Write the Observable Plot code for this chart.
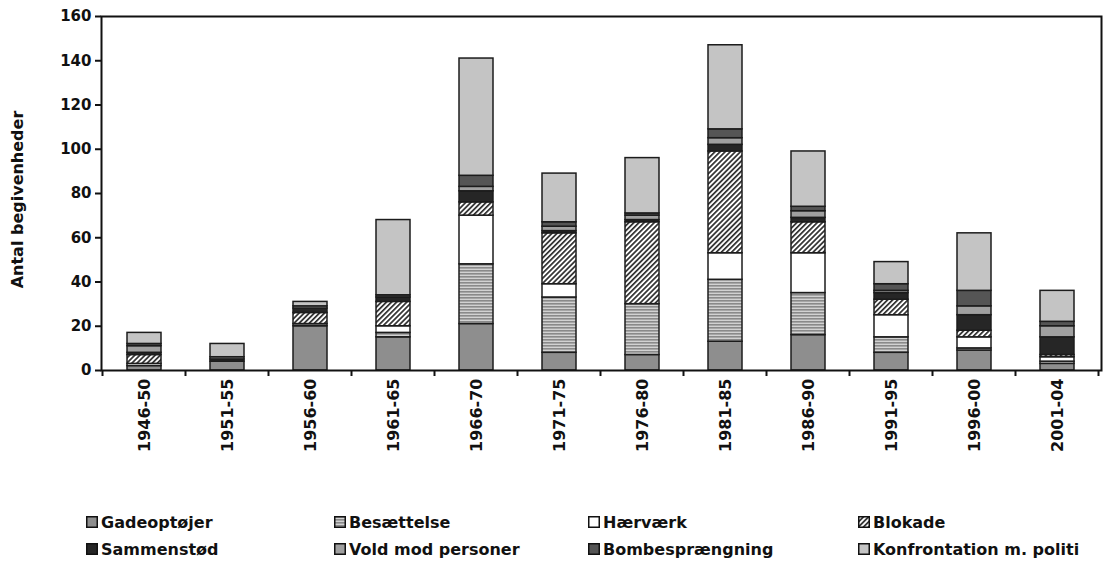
<!DOCTYPE html>
<html><head><meta charset="utf-8">
<script src="https://cdn.jsdelivr.net/npm/d3@7"></script>
<script src="https://cdn.jsdelivr.net/npm/@observablehq/plot@0.6"></script>
<style>
body{margin:0;background:#fff;font-family:"DejaVu Sans",sans-serif;}
#legend{position:relative;width:1105px;height:96px;}
.item{position:absolute;display:flex;align-items:center;height:18px;font-size:16px;font-weight:bold;color:#111;white-space:nowrap;}
.item svg{margin-right:3px;}
</style></head><body>
<div id="chart"></div><div id="legend"></div>
<script>
const periods = ["1946-50","1951-55","1956-60","1961-65","1966-70","1971-75","1976-80","1981-85","1986-90","1991-95","1996-00","2001-04"];
const types = ["Gadeoptøjer","Besættelse","Hærværk","Blokade","Sammenstød","Vold mod personer","Bombesprængning","Konfrontation m. politi"];
const gadeoptojer = [2,4,20,15,21,8,7,13,16,8,9,3];
const besaettelse = [0,0,1,2,27,25,23,28,19,7,1,1];
const haervaerk   = [1,0,0,3,22,6,0,12,18,10,5,2];
const blokade     = [4,0,5,11,6,23,37,46,14,7,3,1];
const sammenstod  = [1,1,2,2,5,1,1,3,2,3,7,8];
const vold        = [3,1,1,0,2,2,2,3,3,1,4,5];
const bombe       = [1,0,0,1,5,2,1,4,2,3,7,2];
const konfront    = [5,6,2,34,53,22,25,38,25,10,26,14];
const yTicks = [0,20,40,60,80,100,120,140,160];

const series = [gadeoptojer,besaettelse,haervaerk,blokade,sammenstod,vold,bombe,konfront];
const fills = ["#8e8e8e","url(#pBes)","#ffffff","url(#pBlok)","#262626","#a0a0a0","#555555","#c4c4c4"];
const legendCols = [0,1,2,3,0,1,2,3];

const data = [];
periods.forEach((p,i)=>{
  types.forEach((t,k)=>{
    if (series[k][i] > 0) data.push({period:p, type:t, value:series[k][i]});
  });
});

function boundaryTicks(index, scales, values, dims) {
  const x = scales.x;
  const bw = typeof x.bandwidth === "function" ? x.bandwidth() : x.bandwidth;
  const step = typeof x.step === "function" ? x.step() : (dims.width - dims.marginLeft - dims.marginRight) / periods.length;
  const y0 = dims.height - dims.marginBottom;
  const g = d3.create("svg:g").attr("stroke", "#111").attr("stroke-width", 2);
  const xs = periods.map(p => x(p) - (step - bw) / 2);
  xs.push(xs[xs.length - 1] + step);
  xs.forEach(v => g.append("line").attr("x1", v).attr("x2", v).attr("y1", y0).attr("y2", y0 + 6));
  return g.node();
}

const chart = Plot.plot({
  width: 1105, height: 470,
  marginLeft: 101, marginRight: 4, marginTop: 16, marginBottom: 100,
  style: {fontFamily: "DejaVu Sans", fontWeight: "bold", fontSize: "14px", color: "#111", background: "#fff"},
  x: {domain: periods, paddingInner: 0.59, paddingOuter: 0.295, label: null},
  y: {domain: [0,160], label: null},
  color: {domain: types, range: fills},
  marks: [
    Plot.barY(data, {x: "period", y: "value", fill: "type", stroke: "#1c1c1c", strokeWidth: 1.5}),
    Plot.frame({stroke: "#111", strokeWidth: 2}),
    Plot.axisY({ticks: yTicks, tickSize: 6, tickPadding: 4, fontSize: 15, fontWeight: "bold", label: null, stroke: "#111", strokeWidth: 2}),
    Plot.axisX({tickSize: 0, tickRotate: -90, tickPadding: 8, fontSize: 16, fontWeight: "bold", label: null}),
    Plot.text(["Antal begivenheder"], {frameAnchor: "left", dx: -84, dy: 6, rotate: -90, textAnchor: "middle", fontSize: 16, fontWeight: "bold", fill: "#111"}),
    boundaryTicks
  ]
});

d3.select(chart).insert("defs", ":first-child").html(`
  <pattern id="pBes" patternUnits="userSpaceOnUse" width="4" height="3">
    <rect width="4" height="3" fill="#d2d2d2"/>
    <rect width="4" height="1.6" fill="#8a8a8a"/>
  </pattern>
  <pattern id="pBlok" patternUnits="userSpaceOnUse" width="3.6" height="3.6" patternTransform="rotate(45)">
    <rect width="3.6" height="3.6" fill="#ffffff"/>
    <rect width="1.7" height="3.6" fill="#2e2e2e"/>
  </pattern>`);

document.getElementById("chart").appendChild(chart);

const colX = [86, 334, 588, 858];
const rowY = [43, 70];
const legend = document.getElementById("legend");
types.forEach((t,k)=>{
  const div = document.createElement("div");
  div.className = "item";
  div.style.left = colX[legendCols[k]] + "px";
  div.style.top = rowY[k < 4 ? 0 : 1] + "px";
  div.innerHTML = `<svg width="12" height="12"><rect x="0.75" y="0.75" width="10.5" height="10.5" fill="${fills[k]}" stroke="#111" stroke-width="1.5"/></svg><span>${t}</span>`;
  legend.appendChild(div);
});
</script>
</body></html>
